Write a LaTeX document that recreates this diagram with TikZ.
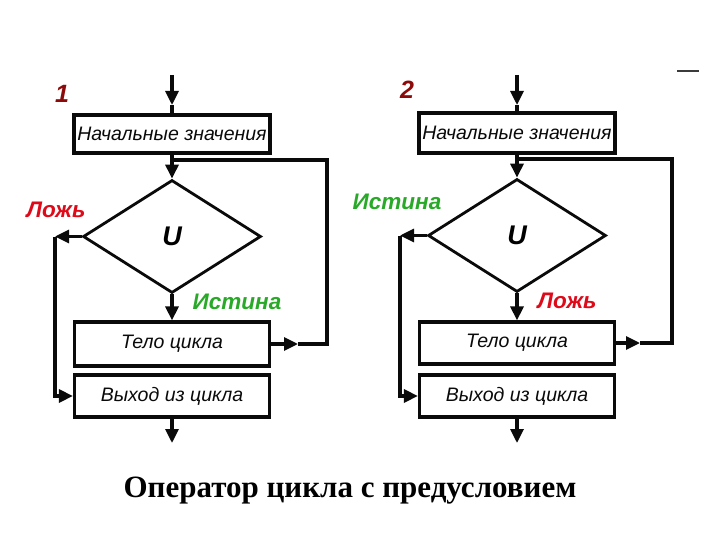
\documentclass[tikz,border=0pt]{standalone}
\usepackage{fontspec}
\setmainfont{Liberation Serif}
\newfontfamily\fcsans{Liberation Sans}
\usetikzlibrary{positioning,arrows.meta,calc,shapes.geometric}
\newcommand{\figbox}{\fcsans\itshape\fontsize{19.5}{22}\selectfont}
\newcommand{\figlab}{\fcsans\itshape\bfseries\fontsize{22.5}{24}\selectfont}
\definecolor{fcInk}{RGB}{10,10,10}
\definecolor{fcRed}{RGB}{222,10,25}
\definecolor{fcGreen}{RGB}{40,170,40}
\definecolor{fcNum}{RGB}{140,10,10}
\tikzset{
  fcBox/.style={draw=fcInk, line width=3.2pt, fill=white, font=\figbox,
    text=fcInk, inner sep=0pt, minimum width=196pt, minimum height=40pt},
  fcCond/.style={draw=fcInk, line width=2.8pt, diamond, inner sep=0pt,
    minimum width=178pt, minimum height=113pt,
    font=\fcsans\itshape\bfseries\fontsize{27}{30}\selectfont},
  fcLine/.style={draw=fcInk, line width=3.2pt},
  fcFlow/.style={fcLine, -{Triangle[length=14pt,width=13pt]}},
  fcFalse/.style={font=\figlab, text=fcRed},
  fcTrue/.style={font=\figlab, text=fcGreen},
  fcNumber/.style={font=\fcsans\itshape\bfseries\fontsize{25}{28}\selectfont, text=fcNum}
}
\begin{document}
\begin{tikzpicture}[x=1pt,y=-1pt]
\fill[white] (0,0) rectangle (720,540);
% scheme 1
\node[fcNumber] (num1) at (62,94) {1};
\node[fcBox,minimum height=38pt] (init1) at (172,134) {Начальные значения};
\node[fcCond] (cond1) at (172,236.5) {U};
\node[fcBox,minimum width=195pt,minimum height=44pt] (body1) at (172,344) {Тело цикла};
\node[fcBox,minimum width=195pt,minimum height=42pt] (exit1) at (172,396) {Выход из цикла};
\coordinate (top1) at (172,75);
\coordinate (mid1) at (172,105);
\coordinate (jn1) at (172,160);
\coordinate (rt1) at (327,160);
\coordinate (ar1) at (298,344);
\coordinate (lf1) at (55,236.5);
\coordinate (out1) at (172,443);
\draw[fcFlow] (top1) -- (mid1);
\draw[fcLine] (mid1) -- (init1.north);
\draw[fcFlow] (init1.south) -- (cond1.north);
\draw[fcFlow] (cond1.south) -- (body1.north);
\draw[fcFlow] (cond1.west) -- (lf1);
\draw[fcFlow] (lf1) |- (exit1.west);
\draw[fcFlow] (body1.east) -- (ar1);
\draw[fcLine] (ar1) -| (rt1) -- (jn1);
\draw[fcFlow] (exit1.south) -- (out1);
\node[fcFalse] (no1) at (56,210) {Ложь};
\node[fcTrue] (yes1) at (237,302) {Истина};
% scheme 2
\node[fcNumber] (num2) at (407,90) {2};
\node[fcBox] (init2) at (517,133) {Начальные значения};
\node[fcCond] (cond2) at (517,235.5) {U};
\node[fcBox,minimum width=195pt,minimum height=42pt] (body2) at (517,343) {Тело цикла};
\node[fcBox,minimum width=195pt,minimum height=42pt] (exit2) at (517,396) {Выход из цикла};
\coordinate (top2) at (517,75);
\coordinate (mid2) at (517,105);
\coordinate (jn2) at (517,159);
\coordinate (rt2) at (672,159);
\coordinate (ar2) at (640,343);
\coordinate (lf2) at (400,235.5);
\coordinate (out2) at (517,443);
\draw[fcFlow] (top2) -- (mid2);
\draw[fcLine] (mid2) -- (init2.north);
\draw[fcFlow] (init2.south) -- (cond2.north);
\draw[fcFlow] (cond2.south) -- (body2.north);
\draw[fcFlow] (cond2.west) -- (lf2);
\draw[fcFlow] (lf2) |- (exit2.west);
\draw[fcFlow] (body2.east) -- (ar2);
\draw[fcLine] (ar2) -| (rt2) -- (jn2);
\draw[fcFlow] (exit2.south) -- (out2);
\node[fcTrue] (yes2) at (397,202) {Истина};
\node[fcFalse] (no2) at (567,301) {Ложь};
% mark at top right
\draw[fcInk!80, line width=1.6pt] (677,71) -- (699,71);
% caption
\node[font=\bfseries\fontsize{31}{34}\selectfont] (title) at (350,491) {Оператор цикла с предусловием};
\end{tikzpicture}
\end{document}
